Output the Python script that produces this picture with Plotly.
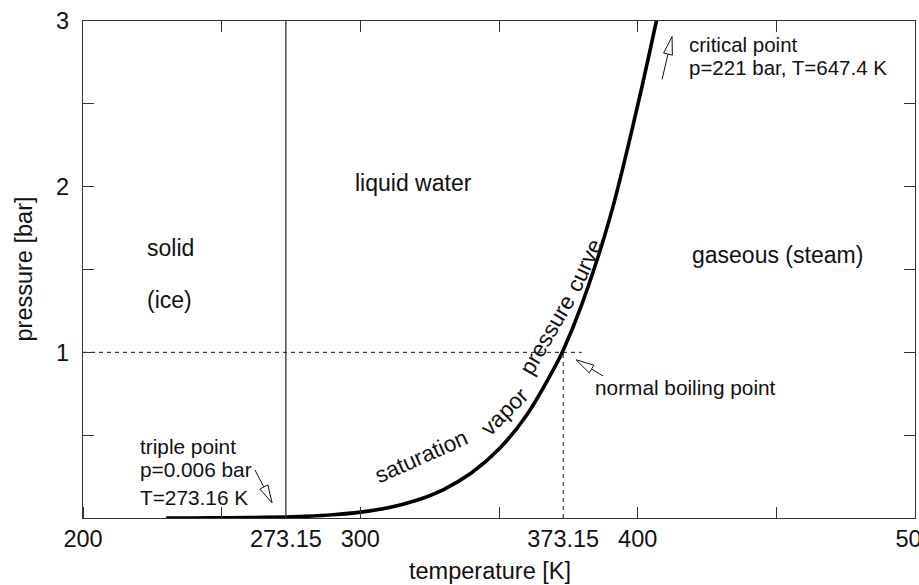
import math
import plotly.graph_objects as go

# ---- data ----
T_sat = [230, 240, 250, 260, 273.15, 280, 290, 300, 310, 320, 330, 340, 350,
         360, 370, 373.15, 380, 390, 400, 407]
p_sat = [0.0001, 0.0003, 0.0008, 0.0020, 0.0061, 0.0099, 0.0192, 0.0354, 0.0624,
         0.1055, 0.172, 0.2716, 0.4163, 0.6219, 0.9076, 1.013, 1.2959, 1.8131,
         2.4908, 3.02]
T_melt = 273.15
T_boil = 373.15
p_atm = 1.0
x_ticklabels = [200, 273.15, 300, 373.15, 400, 500]
x_tickmarks = [200, 250, 300, 350, 400, 450, 500]
y_ticklabels = [1, 2, 3]
y_tickmarks = [0.5, 1, 1.5, 2, 2.5]

X0, X1 = 200, 500
Y0, Y1 = 0, 3
W, H = 919, 585
ML, MR, MT, MB = 83, 4, 21, 67
PW = W - ML - MR
PH = H - MT - MB
FONT = "Liberation Sans, Arial, sans-serif"
INK = "#111"
AX = "#333"

fig = go.Figure()
fig.add_trace(go.Scatter(x=T_sat, y=p_sat, mode="lines", line=dict(color="black", width=3.6, shape="spline"),
                         hoverinfo="skip"))
fig.add_trace(go.Scatter(x=[T_melt, T_melt], y=[Y0, Y1], mode="lines", line=dict(color=AX, width=1.3),
                         hoverinfo="skip"))
fig.add_trace(go.Scatter(x=[X0, T_boil + 6.7], y=[p_atm, p_atm], mode="lines",
                         line=dict(color=INK, width=1, dash="4px,4px"), hoverinfo="skip"))
fig.add_trace(go.Scatter(x=[T_boil, T_boil], y=[Y0, p_atm], mode="lines",
                         line=dict(color=INK, width=1, dash="4px,4px"), hoverinfo="skip"))
# invisible trace to activate the mirrored tick axes
fig.add_trace(go.Scatter(x=[X0], y=[Y0], xaxis="x2", yaxis="y2", mode="markers",
                         marker=dict(opacity=0), hoverinfo="skip"))

def to_px(x, y):
    return ((x - X0) / (X1 - X0) * PW, (y - Y0) / (Y1 - Y0) * PH)

def to_data(px, py):
    return (X0 + px / PW * (X1 - X0), Y0 + py / PH * (Y1 - Y0))

shapes = []
def arrow(tip, tail, head_len=18, head_w=4.5):
    tx, ty = to_px(*tip)
    sx, sy = to_px(*tail)
    dx, dy = tx - sx, ty - sy
    L = math.hypot(dx, dy)
    ux, uy = dx / L, dy / L
    bx, by = tx - ux * head_len, ty - uy * head_len
    nx, ny = -uy, ux
    p1 = to_data(bx + nx * head_w, by + ny * head_w)
    p2 = to_data(bx - nx * head_w, by - ny * head_w)
    b = to_data(bx, by)
    shapes.append(dict(type="line", xref="x", yref="y", x0=tail[0], y0=tail[1], x1=b[0], y1=b[1],
                       line=dict(color=INK, width=1)))
    path = f"M {tip[0]},{tip[1]} L {p1[0]},{p1[1]} L {p2[0]},{p2[1]} Z"
    shapes.append(dict(type="path", xref="x", yref="y", path=path, line=dict(color=INK, width=1),
                       fillcolor="white"))

arrow((412.4, 2.906), (408.8, 2.647))
arrow((377.8, 0.955), (387.5, 0.858))
arrow((268.2, 0.091), (262.0, 0.29))

ann = []
def txt(x, y, s, size=23, xanchor="center", angle=0):
    ann.append(dict(x=x, y=y, xref="x", yref="y", text=s, showarrow=False, xanchor=xanchor,
                    yanchor="middle", textangle=angle, font=dict(family=FONT, size=size, color=INK)))

txt(222.4, 1.631, "solid", xanchor="left")
txt(222.4, 1.317, "(ice)", xanchor="left")
txt(319.2, 2.024, "liquid water")
txt(450.4, 1.589, "gaseous (steam)")
txt(417.8, 2.858, "critical point", size=20.5, xanchor="left")
txt(417.8, 2.719, "p=221 bar, T=647.4 K", size=20.5, xanchor="left")
txt(383.9, 0.7855, "normal boiling point", size=20.8, xanchor="left")
txt(219.8, 0.429, "triple point", size=20.8, xanchor="left")
txt(219.8, 0.290, "p=0.006 bar", size=20.8, xanchor="left")
txt(219.8, 0.121, "T=273.16 K", size=20.8, xanchor="left")
txt(322.0, 0.370, "saturation", size=22.5, angle=-24)
txt(352.0, 0.645, "vapor", size=22.5, angle=-45)
txt(367.6, 1.105, "pressure", size=22.5, angle=-60)
txt(380.8, 1.525, "curve", size=22.5, angle=-65)

# axis titles as annotations
ann.append(dict(x=(490 - ML) / PW, y=(518 - 571) / PH, xref="paper", yref="paper", text="temperature [K]",
                showarrow=False, xanchor="center", yanchor="middle",
                font=dict(family=FONT, size=23.5, color=INK)))
ann.append(dict(x=(23 - ML) / PW, y=0.5, xref="paper", yref="paper", text="pressure [bar]",
                showarrow=False, xanchor="center", yanchor="middle", textangle=-90,
                font=dict(family=FONT, size=23.5, color=INK)))

fig.update_layout(
    width=W, height=H, margin=dict(l=ML, r=MR, t=MT, b=MB, autoexpand=False),
    paper_bgcolor="white", plot_bgcolor="white", showlegend=False,
    font=dict(family=FONT, size=23.5, color=INK),
    shapes=shapes, annotations=ann,
    xaxis=dict(range=[X0, X1], tickvals=x_ticklabels, ticktext=[str(v) for v in x_ticklabels],
               ticks="", showgrid=False, zeroline=False, showline=True, linecolor=AX, linewidth=1.3,
               mirror=True, ticklabelstandoff=0, ticklabeloverflow="allow", automargin=False,
               minor=dict(tickvals=x_tickmarks, ticks="inside", ticklen=11, tickcolor=AX, tickwidth=1.3,
                          showgrid=False)),
    yaxis=dict(range=[Y0, Y1], tickvals=y_ticklabels, ticks="", showgrid=False, zeroline=False,
               showline=True, linecolor=AX, linewidth=1.3, mirror=True, ticklabelstandoff=8,
               ticklabeloverflow="allow", automargin=False,
               minor=dict(tickvals=y_tickmarks, ticks="inside", ticklen=11, tickcolor=AX, tickwidth=1.3,
                          showgrid=False)),
    xaxis2=dict(range=[X0, X1], overlaying="x", side="top", tickvals=x_tickmarks[1:-1], ticks="inside",
                ticklen=11, tickcolor=AX, tickwidth=1.3, showticklabels=False, showgrid=False,
                zeroline=False, showline=False, automargin=False),
    yaxis2=dict(range=[Y0, Y1], overlaying="y", side="right", tickvals=y_tickmarks, ticks="inside",
                ticklen=11, tickcolor=AX, tickwidth=1.3, showticklabels=False, showgrid=False,
                zeroline=False, showline=False, automargin=False),
)
fig.write_html("out.html")
